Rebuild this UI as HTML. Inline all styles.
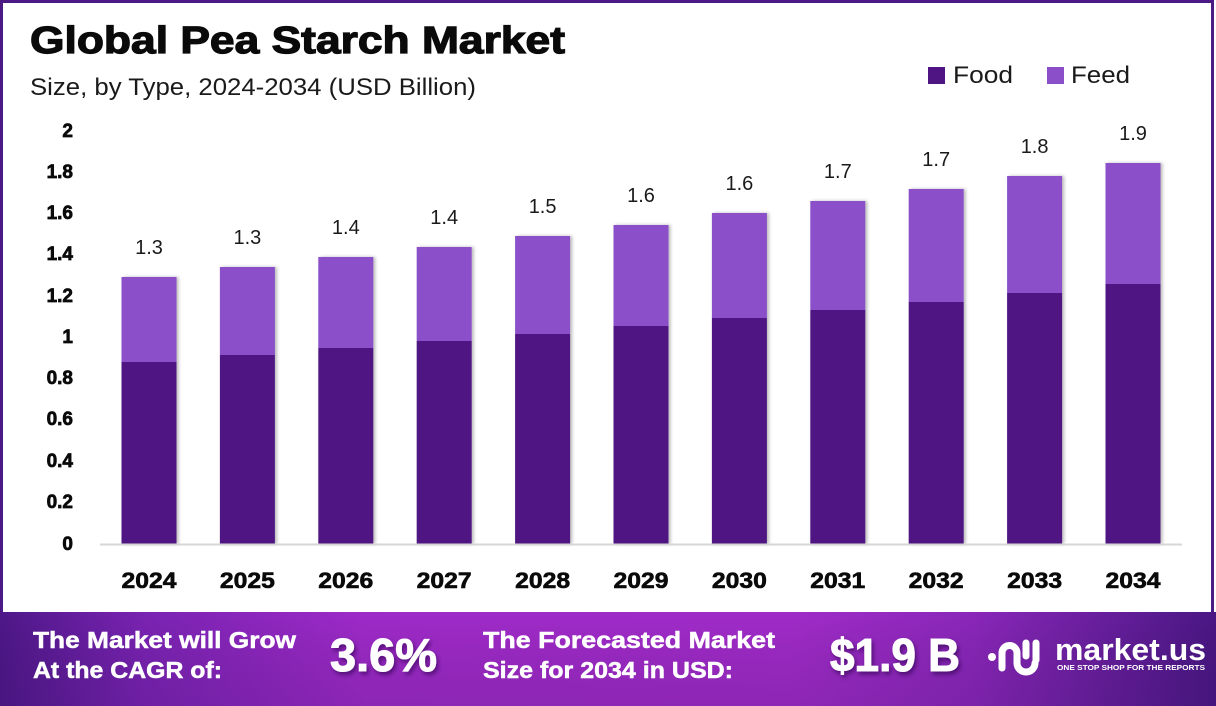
<!DOCTYPE html>
<html>
<head>
<meta charset="utf-8">
<style>
html,body{margin:0;padding:0;background:#fff;}
svg{display:block;}
text{font-family:"Liberation Sans",Arial,sans-serif;}
</style>
</head>
<body>
<svg width="1216" height="706" viewBox="0 0 1216 706" xmlns="http://www.w3.org/2000/svg">
<defs>
  <linearGradient id="ban" x1="0" y1="0" x2="1" y2="0">
    <stop offset="0" stop-color="#4e1889"/>
    <stop offset="0.12" stop-color="#7a23b3"/>
    <stop offset="0.3" stop-color="#9e2ac8"/>
    <stop offset="0.65" stop-color="#a02bc8"/>
    <stop offset="0.8" stop-color="#8a27ba"/>
    <stop offset="1" stop-color="#4a1784"/>
  </linearGradient>
  <linearGradient id="banv" x1="0" y1="0" x2="0" y2="1">
    <stop offset="0" stop-color="#000" stop-opacity="0"/>
    <stop offset="1" stop-color="#2a0a50" stop-opacity="0.15"/>
  </linearGradient>
  <filter id="bsh" x="-10%" y="-5%" width="125%" height="110%">
    <feDropShadow dx="2" dy="0" stdDeviation="1.5" flood-color="#000" flood-opacity="0.28"/>
  </filter>
  <filter id="tsh" x="-10%" y="-20%" width="130%" height="150%">
    <feDropShadow dx="2" dy="3" stdDeviation="2" flood-color="#2a0650" flood-opacity="0.6"/>
  </filter>
</defs>

<!-- frame -->
<rect x="0" y="0" width="1216" height="706" fill="#fff"/>
<rect x="1.5" y="1.5" width="1211" height="620" fill="none" stroke="#4b1a85" stroke-width="3"/>

<!-- title -->
<text x="30" y="53" font-size="38" font-weight="bold" fill="#0a0a0a" stroke="#0a0a0a" stroke-width="1.2" textLength="535" lengthAdjust="spacingAndGlyphs">Global Pea Starch Market</text>
<text x="30" y="95" font-size="24" fill="#1a1a1a" textLength="446" lengthAdjust="spacingAndGlyphs">Size, by Type, 2024-2034 (USD Billion)</text>

<!-- legend -->
<rect x="928" y="67" width="17" height="17" fill="#4f1683"/>
<text x="953" y="83" font-size="24" fill="#1a1a1a" textLength="60" lengthAdjust="spacingAndGlyphs">Food</text>
<rect x="1047" y="67" width="17" height="17" fill="#8a4fc9"/>
<text x="1071" y="83" font-size="24" fill="#1a1a1a" textLength="59" lengthAdjust="spacingAndGlyphs">Feed</text>

<!-- y axis labels -->
<g font-size="19" font-weight="bold" fill="#0a0a0a" stroke="#0a0a0a" stroke-width="0.7" text-anchor="end">
  <text x="73" y="137">2</text>
  <text x="73" y="178">1.8</text>
  <text x="73" y="219">1.6</text>
  <text x="73" y="260">1.4</text>
  <text x="73" y="302">1.2</text>
  <text x="73" y="343">1</text>
  <text x="73" y="384">0.8</text>
  <text x="73" y="425">0.6</text>
  <text x="73" y="467">0.4</text>
  <text x="73" y="508">0.2</text>
  <text x="73" y="550">0</text>
</g>

<!-- bars -->
<g filter="url(#bsh)">
  <rect x="121.5" y="277" width="55" height="85" fill="#8a4fc9"/><rect x="121.5" y="362" width="55" height="182" fill="#4f1683"/>
  <rect x="219.9" y="267" width="55" height="88" fill="#8a4fc9"/><rect x="219.9" y="355" width="55" height="189" fill="#4f1683"/>
  <rect x="318.3" y="257" width="55" height="91" fill="#8a4fc9"/><rect x="318.3" y="348" width="55" height="196" fill="#4f1683"/>
  <rect x="416.7" y="247" width="55" height="94" fill="#8a4fc9"/><rect x="416.7" y="341" width="55" height="203" fill="#4f1683"/>
  <rect x="515.1" y="236" width="55" height="98" fill="#8a4fc9"/><rect x="515.1" y="334" width="55" height="210" fill="#4f1683"/>
  <rect x="613.5" y="225" width="55" height="101" fill="#8a4fc9"/><rect x="613.5" y="326" width="55" height="218" fill="#4f1683"/>
  <rect x="711.9" y="213" width="55" height="105" fill="#8a4fc9"/><rect x="711.9" y="318" width="55" height="226" fill="#4f1683"/>
  <rect x="810.3" y="201" width="55" height="109" fill="#8a4fc9"/><rect x="810.3" y="310" width="55" height="234" fill="#4f1683"/>
  <rect x="908.7" y="189" width="55" height="113" fill="#8a4fc9"/><rect x="908.7" y="302" width="55" height="242" fill="#4f1683"/>
  <rect x="1007.1" y="176" width="55" height="117" fill="#8a4fc9"/><rect x="1007.1" y="293" width="55" height="251" fill="#4f1683"/>
  <rect x="1105.5" y="163" width="55" height="121" fill="#8a4fc9"/><rect x="1105.5" y="284" width="55" height="260" fill="#4f1683"/>
</g>

<!-- baseline -->
<line x1="100" y1="544.5" x2="1182" y2="544.5" stroke="#d6d6d6" stroke-width="2"/>

<!-- value labels -->
<g font-size="20" fill="#1a1a1a" text-anchor="middle">
  <text x="149" y="254">1.3</text>
  <text x="247.4" y="244">1.3</text>
  <text x="345.8" y="234">1.4</text>
  <text x="444.2" y="224">1.4</text>
  <text x="542.6" y="213">1.5</text>
  <text x="641" y="202">1.6</text>
  <text x="739.4" y="190">1.6</text>
  <text x="837.8" y="178">1.7</text>
  <text x="936.2" y="166">1.7</text>
  <text x="1034.6" y="153">1.8</text>
  <text x="1133" y="140">1.9</text>
</g>

<!-- x labels -->
<g font-size="22" font-weight="bold" fill="#0a0a0a" stroke="#0a0a0a" stroke-width="0.6" text-anchor="middle">
  <text x="149" y="588" textLength="55" lengthAdjust="spacingAndGlyphs">2024</text>
  <text x="247.4" y="588" textLength="55" lengthAdjust="spacingAndGlyphs">2025</text>
  <text x="345.8" y="588" textLength="55" lengthAdjust="spacingAndGlyphs">2026</text>
  <text x="444.2" y="588" textLength="55" lengthAdjust="spacingAndGlyphs">2027</text>
  <text x="542.6" y="588" textLength="55" lengthAdjust="spacingAndGlyphs">2028</text>
  <text x="641" y="588" textLength="55" lengthAdjust="spacingAndGlyphs">2029</text>
  <text x="739.4" y="588" textLength="55" lengthAdjust="spacingAndGlyphs">2030</text>
  <text x="837.8" y="588" textLength="55" lengthAdjust="spacingAndGlyphs">2031</text>
  <text x="936.2" y="588" textLength="55" lengthAdjust="spacingAndGlyphs">2032</text>
  <text x="1034.6" y="588" textLength="55" lengthAdjust="spacingAndGlyphs">2033</text>
  <text x="1133" y="588" textLength="55" lengthAdjust="spacingAndGlyphs">2034</text>
</g>

<!-- bottom banner -->
<rect x="0" y="612" width="1216" height="94" fill="url(#ban)"/>
<rect x="0" y="612" width="1216" height="94" fill="url(#banv)"/>

<g font-weight="bold" fill="#ffffff">
  <g stroke="#fff" stroke-width="0.5">
  <text x="33" y="648" font-size="23" textLength="263" lengthAdjust="spacingAndGlyphs">The Market will Grow</text>
  <text x="33" y="678" font-size="23" textLength="189" lengthAdjust="spacingAndGlyphs">At the CAGR of:</text>
  <text x="483" y="648" font-size="23" textLength="292" lengthAdjust="spacingAndGlyphs">The Forecasted Market</text>
  <text x="483" y="678" font-size="23" textLength="250" lengthAdjust="spacingAndGlyphs">Size for 2034 in USD:</text>
  </g>
  <g filter="url(#tsh)" stroke="#fff" stroke-width="1">
    <text x="330" y="671" font-size="46" textLength="107" lengthAdjust="spacingAndGlyphs">3.6%</text>
    <text x="830" y="671" font-size="46" textLength="130" lengthAdjust="spacingAndGlyphs">$1.9 B</text>
  </g>
</g>

<!-- logo -->
<g fill="none" stroke="#fff" stroke-width="7" stroke-linecap="round" stroke-linejoin="round">
  <path d="M1002,668 L1002,653 A7.5,7.5 0 0 1 1017,653 L1017,663 A9,9 0 0 0 1035,663"/>
  <path d="M1026,643 L1026,656"/>
  <path d="M1036,643 L1036,660"/>
</g>
<circle cx="992" cy="657" r="4" fill="#fff"/>
<text x="1055" y="660" font-size="31" font-weight="bold" fill="#fff" textLength="151" lengthAdjust="spacingAndGlyphs">market.us</text>
<text x="1057" y="670" font-size="7" font-weight="bold" fill="#fff" textLength="148" lengthAdjust="spacingAndGlyphs">ONE STOP SHOP FOR THE REPORTS</text>
</svg>
</body>
</html>
